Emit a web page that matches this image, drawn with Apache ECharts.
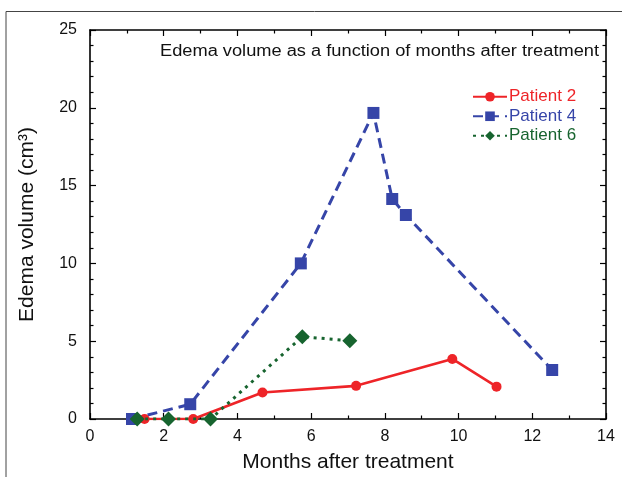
<!DOCTYPE html>
<html><head><meta charset="utf-8">
<script src="https://cdn.jsdelivr.net/npm/echarts@6/dist/echarts.min.js"></script>
<style>html,body{margin:0;padding:0;background:#fff}#c{width:622px;height:477px}</style>
</head><body><div id="c"></div>
<script>
const seriesNames = ['Patient 2', 'Patient 4', 'Patient 6'];
const p2x = [1.48, 2.80, 4.68, 7.22, 9.83, 11.03];
const p2y = [0, 0, 1.70, 2.13, 3.86, 2.08];
const p4x = [1.14, 2.72, 5.72, 7.69, 8.20, 8.57, 12.54];
const p4y = [0, 0.95, 10.0, 19.67, 14.14, 13.11, 3.15];
const p6x = [1.28, 2.13, 3.27, 5.76, 7.05];
const p6y = [0, 0, 0, 5.29, 5.03];
const xTicks = [0, 2, 4, 6, 8, 10, 12, 14];
const yTicks = [0, 5, 10, 15, 20, 25];
const titleText = 'Edema volume as a function of months after treatment';

const zip = (a, b) => a.map((v, i) => [v, b[i]]);
const colors = ['#ee2428', '#3645a8', '#17642f'];
const font = 'Liberation Sans, Arial, sans-serif';

const chart = echarts.init(document.getElementById('c'), null, {renderer: 'canvas'});
const axisCommon = {
  axisLine: {show: true, onZero: false, lineStyle: {color: '#000', width: 1.6}},
  axisTick: {show: true, inside: true, length: 6, lineStyle: {color: '#000', width: 1.2}},
  minorTick: {show: true, length: 3.5, lineStyle: {color: '#000', width: 1.2}},
  splitLine: {show: false},
};
chart.setOption({
  animation: false,
  grid: {left: 90, top: 30, right: 16, bottom: 58, containLabel: false, outerBoundsMode: 'none'},
  graphic: [
    {type: 'polyline', shape: {points: [[6, 480], [6, 11.5], [625, 11.5]]}, style: {stroke: '#444', lineWidth: 1, fill: null}, silent: true},
    {type: 'text', x: 160, y: 44, scaleX: 1.14, style: {text: titleText, font: '16px ' + font, fill: '#111'}}
  ],
  legend: {
    orient: 'vertical', left: 472, top: 88, padding: 0, itemWidth: 34, itemHeight: 12, itemGap: 2,
    textStyle: {fontSize: 17, lineHeight: 17.5, fontFamily: font, padding: [0, 0, 0, -3]},
    data: seriesNames.map((n, i) => ({name: n, textStyle: {color: colors[i]}}))
  },
  xAxis: [
    Object.assign({}, axisCommon, {
      type: 'value', min: 0, max: 14, interval: 2, position: 'bottom',
      minorTick: Object.assign({}, axisCommon.minorTick, {splitNumber: 2}),
      axisLabel: {color: '#111', fontSize: 16, fontFamily: font, margin: 10,
        formatter: v => xTicks.includes(v) ? String(v) : ''},
      name: 'Months after treatment', nameLocation: 'middle', nameGap: 33,
      nameTextStyle: {color: '#111', fontSize: 21, fontFamily: font}
    }),
    Object.assign({}, axisCommon, {
      type: 'value', min: 0, max: 14, interval: 2, position: 'top',
      minorTick: Object.assign({}, axisCommon.minorTick, {splitNumber: 2}),
      axisLabel: {show: false}
    })
  ],
  yAxis: [
    Object.assign({}, axisCommon, {
      type: 'value', min: 0, max: 25, interval: 5, position: 'left',
      minorTick: Object.assign({}, axisCommon.minorTick, {splitNumber: 5}),
      axisLabel: {color: '#111', fontSize: 16, fontFamily: font, margin: 13,
        formatter: v => yTicks.includes(v) ? String(v) : ''},
      name: 'Edema volume (cm³)', nameLocation: 'middle', nameGap: 52,
      nameTextStyle: {color: '#111', fontSize: 21, fontFamily: font}
    }),
    Object.assign({}, axisCommon, {
      type: 'value', min: 0, max: 25, interval: 5, position: 'right',
      minorTick: Object.assign({}, axisCommon.minorTick, {splitNumber: 5}),
      axisLabel: {show: false}
    })
  ],
  series: [
    {name: seriesNames[0], type: 'line', data: zip(p2x, p2y), symbol: 'circle', symbolSize: 10,
      itemStyle: {color: colors[0]}, lineStyle: {color: colors[0], width: 2.6}, z: 3},
    {name: seriesNames[1], type: 'line', data: zip(p4x, p4y), symbol: 'rect', symbolSize: 12,
      itemStyle: {color: colors[1]}, lineStyle: {color: colors[1], width: 3, type: [10, 6]}, z: 2},
    {name: seriesNames[2], type: 'line', data: zip(p6x, p6y), symbol: 'diamond', symbolSize: 15,
      itemStyle: {color: colors[2]}, lineStyle: {color: colors[2], width: 3, type: [3, 5]}, z: 4}
  ]
});
</script></body></html>
